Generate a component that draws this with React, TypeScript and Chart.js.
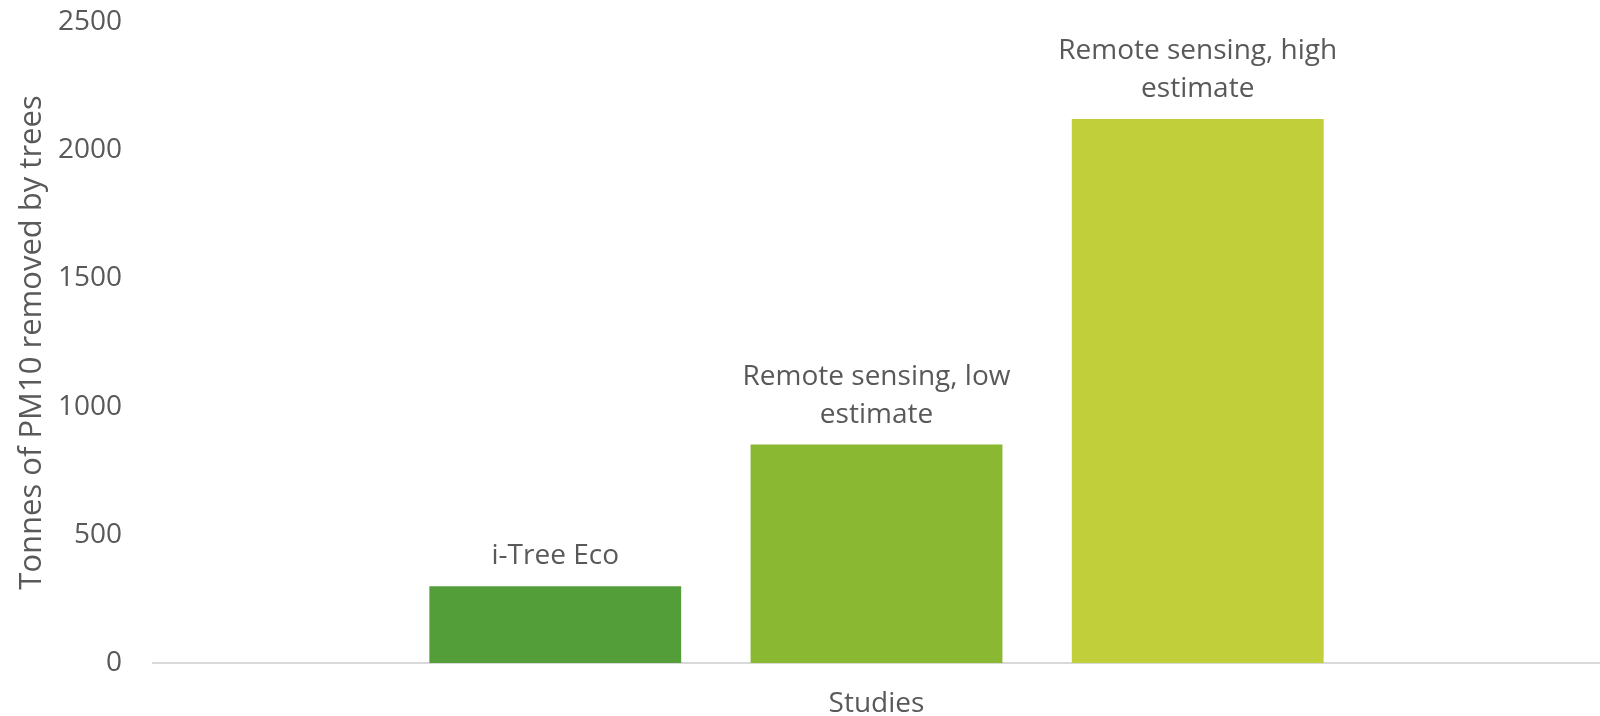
import React, { useEffect, useRef } from "react";
import { Chart, registerables } from "chart.js";

Chart.register(...registerables);

const categories = ["Studies"];
const seriesNames = ["i-Tree Eco", "Remote sensing, low estimate", "Remote sensing, high estimate"];
const seriesValues = [299, 852, 2122];
const seriesColors = ["#549E39", "#8AB833", "#C0CF3A"];
const barLabelLines = [["i-Tree Eco"], ["Remote sensing, low", "estimate"], ["Remote sensing, high", "estimate"]];
const yTitle = "Tonnes of PM10 removed by trees";
const yMin = 0;
const yMax = 2500;
const yStep = 500;

const TEXT = "#595959";
const FONT = "'Open Sans', 'Noto Sans', sans-serif";

const barLabelPlugin = {
  id: "barLabels",
  afterDatasetsDraw(chart: any) {
    const ctx = chart.ctx;
    ctx.save();
    ctx.fillStyle = TEXT;
    ctx.font = `28px ${FONT}`;
    ctx.textAlign = "center";
    ctx.textBaseline = "middle";
    chart.data.datasets.forEach((_ds: any, i: number) => {
      const meta = chart.getDatasetMeta(i);
      const el = meta.data[0];
      if (!el) return;
      const lines = barLabelLines[i];
      const n = lines.length;
      lines.forEach((line: string, j: number) => {
        const y = el.y - 30 - (n - 1 - j) * 38;
        ctx.fillText(line, el.x, y);
      });
    });
    ctx.restore();
  },
};

export default function App() {
  const ref = useRef<HTMLCanvasElement | null>(null);
  useEffect(() => {
    if (!ref.current) return;
    const chart = new Chart(ref.current, {
      type: "bar",
      data: {
        labels: categories,
        datasets: seriesNames.map((name, i) => ({
          label: name,
          data: [seriesValues[i]],
          backgroundColor: seriesColors[i],
          borderWidth: 0,
          categoryPercentage: 0.666,
          barPercentage: 0.784,
        })),
      },
      options: {
        animation: false,
        responsive: true,
        maintainAspectRatio: false,
        layout: { padding: { top: 22, right: 0, bottom: 0, left: 0 } },
        plugins: {
          legend: { display: false },
          tooltip: { enabled: false },
          title: { display: false },
        },
        scales: {
          x: {
            grid: { display: false, drawTicks: false },
            border: { display: true, color: "#D9D9D9", width: 2 },
            ticks: { color: TEXT, font: { family: FONT, size: 28 }, padding: 24 },
            afterFit: (s: any) => {
              s.height = 53;
            },
          },
          y: {
            min: yMin,
            max: yMax,
            grid: { display: false, drawTicks: false },
            border: { display: false },
            ticks: {
              stepSize: yStep,
              color: TEXT,
              font: { family: FONT, size: 28 },
              padding: 31,
              callback: (v: any) => String(v),
            },
            title: {
              display: true,
              text: yTitle,
              color: TEXT,
              font: { family: FONT, size: 31 },
              padding: { top: 14, bottom: 0 },
            },
            afterFit: (s: any) => {
              s.width = 153;
              s.paddingTop = 0;
              s.paddingBottom = 0;
            },
          },
        },
      },
      plugins: [barLabelPlugin],
    });
    return () => chart.destroy();
  }, []);
  return (
    <div style={{ position: "absolute", left: 0, top: 0, width: 1600, height: 716, background: "#fff" }}>
      <canvas ref={ref} />
    </div>
  );
}
